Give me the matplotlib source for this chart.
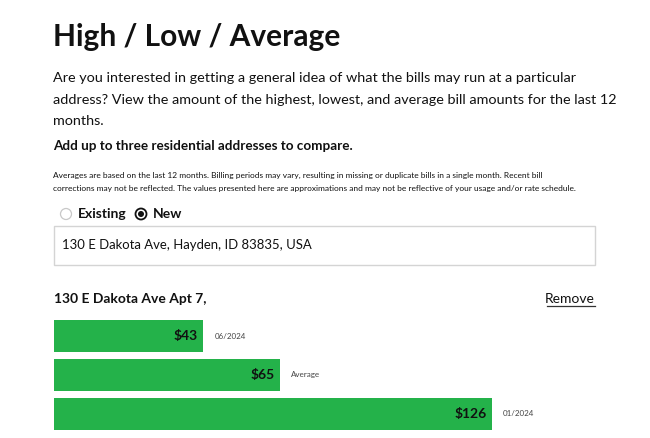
import matplotlib

matplotlib.use("Agg")
import matplotlib.pyplot as plt
from matplotlib.patches import Circle, Rectangle

plt.rcParams["font.family"] = ["Lato", "DejaVu Sans"]

# chart data
labels = ["06/2024", "Average", "01/2024"]
amounts = [43, 65, 126]
address = "130 E Dakota Ave Apt 7,"

GREEN = "#24b24a"
TEXT = "#111111"

fig = plt.figure(figsize=(6.5, 4.38), dpi=100)
fig.patch.set_facecolor("white")

# overlay axes in pixel coordinates for the page text
page = fig.add_axes([0, 0, 1, 1])
page.set_xlim(0, 650)
page.set_ylim(438, 0)
page.axis("off")

page.text(53, 46, "High / Low / Average", fontsize=21.5, fontweight="bold",
          color=TEXT, va="baseline")

intro = [
    "Are you interested in getting a general idea of what the bills may run at a particular",
    "address? View the amount of the highest, lowest, and average bill amounts for the last 12",
    "months.",
]
for i, line in enumerate(intro):
    page.text(53, 82 + i * 21.5, line, fontsize=10.4, color=TEXT, va="baseline")

page.text(53, 150, "Add up to three residential addresses to compare.",
          fontsize=9.7, fontweight="bold", color=TEXT, va="baseline")

note = [
    "Averages are based on the last 12 months. Billing periods may vary, resulting in missing or "
    "duplicate bills in a single month. Recent bill",
    "corrections may not be reflected. The values presented here are approximations and may not be "
    "reflective of your usage and/or rate schedule.",
]
for i, line in enumerate(note):
    page.text(53, 178 + i * 12.5, line, fontsize=6.05, color=TEXT, va="baseline")

# radio buttons
page.add_patch(Circle((66, 214), 5.5, facecolor="white", edgecolor="#c8c8c8", lw=0.9))
page.text(78, 218.5, "Existing", fontsize=10, fontweight="bold", color=TEXT, va="baseline")
page.add_patch(Circle((141, 214), 5.5, facecolor="white", edgecolor=TEXT, lw=1.3))
page.add_patch(Circle((141, 214), 3, facecolor=TEXT, edgecolor="none"))
page.text(153, 218.5, "New", fontsize=10, fontweight="bold", color=TEXT, va="baseline")

# address input
page.add_patch(Rectangle((54, 226), 541, 39, facecolor="white", edgecolor="#d4d4d4", lw=1))
page.text(62, 249, "130 E Dakota Ave, Hayden, ID 83835, USA", fontsize=9.45,
          color=TEXT, va="baseline")

page.text(54, 303, address, fontsize=10, fontweight="bold", color=TEXT, va="baseline")
page.text(595, 303, "Remove", fontsize=10, color=TEXT, va="baseline", ha="right")
page.plot([547, 595], [305.5, 305.5], color="#333333", lw=0.9)

# bar chart
ax = fig.add_axes([54 / 650, 1 - 433 / 438, 541 / 650, 116 / 438])
ypos = list(range(len(amounts)))
ax.barh(ypos, amounts, height=0.83, color=GREEN, edgecolor="none")
ax.set_xlim(0, 126 * 541 / 438)
ax.set_ylim(len(amounts) - 0.5, -0.5)
ax.axis("off")
for y, amt, lab in zip(ypos, amounts, labels):
    ax.annotate(f"${amt}", (amt, y), xytext=(-4, 0), textcoords="offset points",
                ha="right", va="center", fontsize=10, fontweight="bold", color=TEXT)
    ax.annotate(lab, (amt, y), xytext=(8, 0), textcoords="offset points",
                ha="left", va="center", fontsize=5.8, color="#444444")

fig.savefig("out.png", dpi=100)
